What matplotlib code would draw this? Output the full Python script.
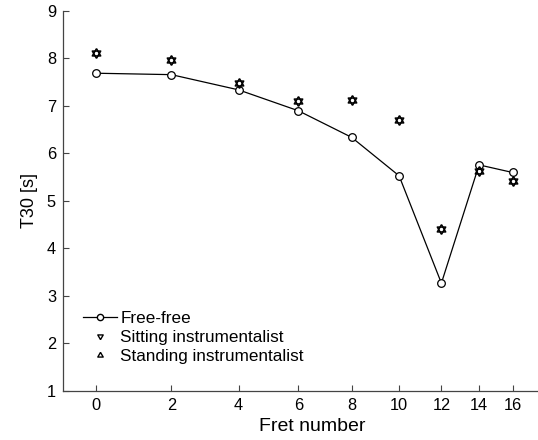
import numpy as np
import matplotlib
matplotlib.use("Agg")
import matplotlib.pyplot as plt

# T30 reverberation time per fret position
frets = [0, 2, 4, 6, 8, 10, 12, 14, 16]
free_free = [7.69, 7.66, 7.34, 6.90, 6.34, 5.53, 3.27, 5.76, 5.60]
sitting = [8.12, 7.97, 7.49, 7.11, 7.13, 6.71, 4.42, 5.64, 5.42]
standing = [8.12, 7.97, 7.49, 7.11, 7.13, 6.71, 4.42, 5.64, 5.42]
yticks = [1, 2, 3, 4, 5, 6, 7, 8, 9]

plt.rcParams["font.family"] = ["Liberation Sans", "DejaVu Sans"]

# triangles centred on their centroid, so the two overlap as a hexagram
tri_up = [(0, 1), (-0.866, -0.5), (0.866, -0.5), (0, 1)]
tri_down = [(0, -1), (-0.866, 0.5), (0.866, 0.5), (0, -1)]


def fret_pos(n):
    # distance of fret n from the nut, as a fraction of scale length
    return 1 - 2.0 ** (-np.asarray(n, dtype=float) / 12)


def fret_num(x):
    x = np.clip(np.asarray(x, dtype=float), None, 0.999999)
    return -12 * np.log2(1 - x)


fig = plt.figure(figsize=(5.38, 4.40), dpi=100)
ax = fig.add_axes([0.117, 0.1114, 0.883, 0.8636])
ax.set_xscale("function", functions=(fret_pos, fret_num))

ax.plot(frets, free_free, "-o", color="black", lw=0.9, ms=5.5,
        mfc="white", mec="black", mew=0.9, label="Free-free")
ax.plot(frets, sitting, ls="none", marker=tri_down, ms=7, mfc="none",
        mec="black", mew=1.1, label="Sitting instrumentalist")
ax.plot(frets, standing, ls="none", marker=tri_up, ms=7, mfc="none",
        mec="black", mew=1.1, label="Standing instrumentalist")

ax.set_xlim(-0.81, 17.68)
ax.set_ylim(1, 9)
ax.set_xticks(frets)
ax.set_yticks(yticks)
ax.minorticks_off()
ax.tick_params(direction="in", length=4, width=0.8, labelsize=11.8,
               color="#444444", pad=5)
for side in ("top", "right"):
    ax.spines[side].set_visible(False)
for side in ("left", "bottom"):
    ax.spines[side].set_color("#444444")
    ax.spines[side].set_linewidth(0.9)

ax.set_xlabel("Fret number", fontsize=14, labelpad=4)
ax.xaxis.label.set_x(0.524)
ax.set_ylabel("T30 [s]", fontsize=13, labelpad=6)

leg = ax.legend(loc="lower left", bbox_to_anchor=(0.027, 0.052), frameon=False,
                fontsize=12.3, handlelength=2.0, handletextpad=0.2,
                labelspacing=0.25, borderaxespad=0.0)
for h in leg.legend_handles:
    h.set_markersize(4.5)
    h.set_markeredgewidth(1.0)

fig.savefig("out.png", dpi=100)
